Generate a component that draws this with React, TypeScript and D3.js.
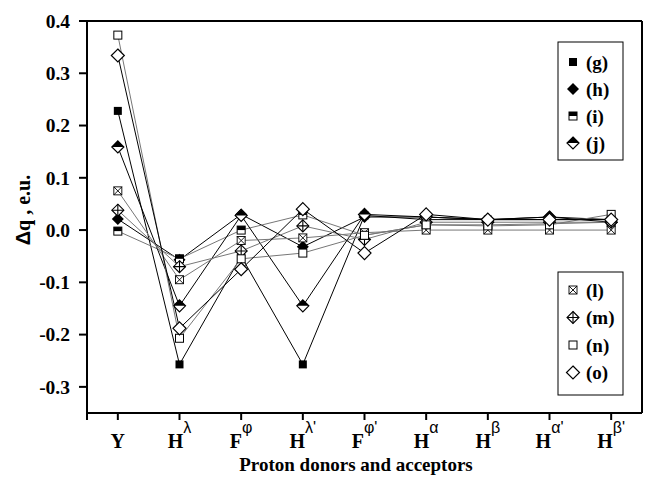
import React from 'react';
import * as d3 from 'd3';

const categories = ['Y', 'Hλ', 'Fφ', "Hλ'", "Fφ'", 'Hα', 'Hβ', "Hα'", "Hβ'"];
const yTicks = [-0.3, -0.2, -0.1, 0, 0.1, 0.2, 0.3, 0.4];

const seriesNames = ['(g)', '(h)', '(i)', '(j)', '(l)', '(m)', '(n)', '(o)'];
const seriesShapes = ['sqFill', 'dmFill', 'sqHalf', 'dmHalf', 'sqX', 'dmPlus', 'sqOpen', 'dmOpen'];
const seriesLine = ['#000', '#000', '#777', '#000', '#777', '#777', '#777', '#000'];

const gValues = [0.228, -0.257, -0.05, -0.257, 0.028, 0.02, 0.02, 0.02, 0.02];
const hValues = [0.021, -0.057, 0.03, -0.032, 0.025, 0.025, 0.02, 0.025, 0.02];
const iValues = [-0.002, -0.055, 0.0, 0.029, -0.01, 0.01, 0.01, 0.012, 0.015];
const jValues = [0.159, -0.145, 0.028, -0.145, 0.03, 0.025, 0.02, 0.025, 0.015];
const lValues = [0.075, -0.095, -0.02, -0.015, -0.005, 0.0, 0.0, 0.0, 0.0];
const mValues = [0.038, -0.07, -0.04, 0.008, -0.018, 0.015, 0.015, 0.015, 0.015];
const nValues = [0.373, -0.207, -0.055, -0.044, -0.01, 0.01, 0.008, 0.01, 0.03];
const oValues = [0.334, -0.188, -0.075, 0.04, -0.044, 0.03, 0.02, 0.02, 0.02];

const allValues = [gValues, hValues, iValues, jValues, lValues, mValues, nValues, oValues];

const serif = 'Liberation Serif, Times New Roman, serif';
const sans = 'Liberation Sans, Arial, sans-serif';

function Marker({ shape, cx, cy }: { shape: string; cx: number; cy: number }) {
  const s = 4;
  const d = 6;
  const diamond = `M${cx},${cy - d}L${cx + d},${cy}L${cx},${cy + d}L${cx - d},${cy}Z`;
  switch (shape) {
    case 'sqFill':
      return <rect x={cx - s} y={cy - s} width={2 * s} height={2 * s} fill="#000" />;
    case 'dmFill':
      return <path d={diamond} fill="#000" />;
    case 'sqHalf':
      return (
        <g>
          <rect x={cx - s} y={cy - s} width={2 * s} height={2 * s} fill="#fff" stroke="#000" strokeWidth={1} />
          <rect x={cx - s} y={cy - s} width={2 * s} height={s} fill="#000" />
        </g>
      );
    case 'dmHalf':
      return (
        <g>
          <path d={diamond} fill="#fff" stroke="#000" strokeWidth={1.2} />
          <path d={`M${cx},${cy - d}L${cx + d},${cy}L${cx - d},${cy}Z`} fill="#000" />
        </g>
      );
    case 'sqX':
      return (
        <g fill="none" stroke="#000" strokeWidth={0.9}>
          <rect x={cx - s} y={cy - s} width={2 * s} height={2 * s} fill="#fff" />
          <path d={`M${cx - s},${cy - s}L${cx + s},${cy + s}M${cx + s},${cy - s}L${cx - s},${cy + s}`} />
        </g>
      );
    case 'dmPlus':
      return (
        <g fill="none" stroke="#000" strokeWidth={1.1}>
          <path d={diamond} fill="#fff" />
          <path d={`M${cx},${cy - d}L${cx},${cy + d}M${cx - d},${cy}L${cx + d},${cy}`} />
        </g>
      );
    case 'sqOpen':
      return <rect x={cx - s} y={cy - s} width={2 * s} height={2 * s} fill="#fff" stroke="#000" strokeWidth={1} />;
    default:
      return (
        <path
          d={`M${cx},${cy - 6.5}L${cx + 6.5},${cy}L${cx},${cy + 6.5}L${cx - 6.5},${cy}Z`}
          fill="#fff"
          stroke="#000"
          strokeWidth={1.2}
        />
      );
  }
}

export default function App() {
  const width = 646;
  const height = 482;
  const left = 87;
  const right = 642;
  const top = 21;
  const bottom = 413;

  const x = d3.scaleBand<string>().domain(categories).range([left, right]).padding(0);
  const xc = (c: string) => (x(c) as number) + x.bandwidth() / 2;
  const y = d3.scaleLinear().domain([-0.35, 0.4]).range([bottom, top]);
  const fmt = (v: number) => d3.format('.1f')(v).replace('\u2212', '-');

  const line = d3
    .line<number>()
    .x((_, i) => xc(categories[i]))
    .y((v) => y(v));

  const legendTop = seriesNames.slice(0, 4);
  const legendBottom = seriesNames.slice(4);

  return (
    <svg width={width} height={height} style={{ position: 'absolute', left: 0, top: 0, background: '#fff' }}>
      <rect width={width} height={height} fill="#fff" />
      {/* frame */}
      <line x1={left} x2={right} y1={top} y2={top} stroke="#000" strokeWidth={2} />
      <line x1={right} x2={right} y1={top} y2={bottom} stroke="#000" strokeWidth={2} />
      {/* y axis */}
      <line x1={left} x2={left} y1={top - 1} y2={bottom + 7} stroke="#000" strokeWidth={2} />
      {yTicks.map((t) => (
        <g key={t}>
          <line x1={left - 8} x2={left} y1={y(t)} y2={y(t)} stroke="#000" strokeWidth={2} />
          <text
            x={70}
            y={y(t)}
            dy="0.35em"
            textAnchor="end"
            fontFamily={serif}
            fontWeight="bold"
            fontSize={19.5}
          >
            {fmt(t)}
          </text>
        </g>
      ))}
      {/* x axis */}
      <line x1={left - 1} x2={right} y1={bottom} y2={bottom} stroke="#000" strokeWidth={2} />
      {categories.map((c) => (
        <g key={c}>
          <line x1={xc(c)} x2={xc(c)} y1={bottom} y2={bottom + 7} stroke="#000" strokeWidth={2} />
          <text x={xc(c)} y={448} textAnchor="middle" fontFamily={serif} fontWeight="bold" fontSize={20}>
            {c.slice(0, 1)}
            {c.length > 1 && (
              <tspan dy={-15} fontFamily={sans} fontWeight="normal" fontSize={16}>
                {c.slice(1)}
              </tspan>
            )}
          </text>
        </g>
      ))}
      <text x={356} y={471} textAnchor="middle" fontFamily={serif} fontWeight="bold" fontSize={19}>
        Proton donors and acceptors
      </text>
      <text
        transform="translate(30,210) rotate(-90)"
        textAnchor="middle"
        fontFamily={serif}
        fontWeight="bold"
        fontSize={20}
      >
        <tspan fontFamily={sans}>Δ</tspan>q , e.u.
      </text>

      {/* series */}
      {allValues.map((vals, si) => (
        <g key={seriesNames[si]}>
          <path d={line(vals) ?? ''} fill="none" stroke={seriesLine[si]} strokeWidth={1} />
          {vals.map((v, i) => (
            <Marker key={i} shape={seriesShapes[si]} cx={xc(categories[i])} cy={y(v)} />
          ))}
        </g>
      ))}

      {/* legends */}
      <rect x={558} y={42} width={65} height={118} fill="#fff" stroke="#000" strokeWidth={1} />
      {legendTop.map((n, i) => (
        <g key={n}>
          <Marker shape={seriesShapes[i]} cx={573} cy={62 + i * 27} />
          <text x={586} y={62 + i * 27} dy="0.35em" fontFamily={serif} fontWeight="bold" fontSize={19}>
            {n}
          </text>
        </g>
      ))}
      <rect x={558} y={272} width={65} height={123} fill="#fff" stroke="#000" strokeWidth={1} />
      {legendBottom.map((n, i) => (
        <g key={n}>
          <Marker shape={seriesShapes[i + 4]} cx={573} cy={290 + i * 27.5} />
          <text x={586} y={290 + i * 27.5} dy="0.35em" fontFamily={serif} fontWeight="bold" fontSize={19}>
            {n}
          </text>
        </g>
      ))}
    </svg>
  );
}
